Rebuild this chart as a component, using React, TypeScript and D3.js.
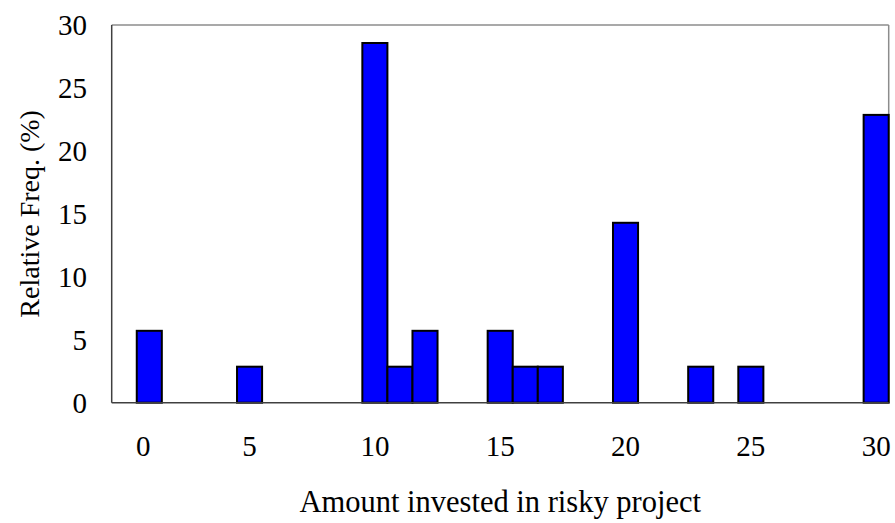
import * as d3 from 'd3';

const W = 895, H = 523;
const M = { top: 25, right: 6.3, bottom: 120.3, left: 111.7 };

// slot on the category axis, share of subjects (%) in that slot
const SLOTS = d3.range(0, 31);
const AMOUNTS = [1, 5, 10, 11, 12, 15, 16, 17, 20, 23, 25, 30];
const REL_FREQ = [5.71, 2.86, 28.57, 2.86, 5.71, 5.71, 2.86, 2.86, 14.29, 2.86, 2.86, 22.86];
const X_TICKS = [1, 5, 10, 15, 20, 25, 30];
const X_TICK_LABELS = ['0', '5', '10', '15', '20', '25', '30'];
const Y_TICKS = [0, 5, 10, 15, 20, 25, 30];

const TXT = { fontFamily: "'Liberation Serif', 'DejaVu Serif', serif" };

export default function App() {
  const x = d3.scaleBand<number>().domain(SLOTS).range([M.left, W - M.right]).padding(0);
  const y = d3.scaleLinear().domain([0, 30]).range([H - M.bottom, M.top]);
  const x0 = M.left, x1 = W - M.right, y0 = y(0), y1 = y(30);

  return (
    <svg width={W} height={H} style={{ position: 'absolute', left: 0, top: 0, background: '#fff' }}>
      {/* frame: grey top/right, darker axes */}
      <line x1={x0} x2={x1} y1={y1} y2={y1} stroke="#8c8c8c" strokeWidth={1.5} />
      <line x1={x1} x2={x1} y1={y1} y2={y0} stroke="#8c8c8c" strokeWidth={1.5} />

      {AMOUNTS.map((a, i) => (
        <rect key={a} x={x(a)!} y={y(REL_FREQ[i])} width={x.bandwidth()} height={y0 - y(REL_FREQ[i])}
          fill="#0000ff" stroke="#000" strokeWidth={2} />
      ))}

      <line x1={x0} x2={x0} y1={y1} y2={y0} stroke="#404040" strokeWidth={1.5} />
      <line x1={x0} x2={x1} y1={y0} y2={y0} stroke="#404040" strokeWidth={1.5} />

      {Y_TICKS.map(t => (
        <text key={t} x={87} y={y(t)} textAnchor="end" dominantBaseline="central" fontSize={29} style={TXT}>{t}</text>
      ))}
      {X_TICKS.map((t, i) => (
        <text key={t} x={x(t)! + x.bandwidth() / 2 - (i === 0 ? 6 : 0)} y={446} textAnchor="middle"
          dominantBaseline="central" fontSize={29} style={TXT}>{X_TICK_LABELS[i]}</text>
      ))}

      <text x={(x0 + x1) / 2} y={502} textAnchor="middle" dominantBaseline="central" fontSize={30.5} style={TXT}>
        Amount invested in risky project
      </text>
      <text transform={`translate(29,${(y0 + y1) / 2}) rotate(-90)`} textAnchor="middle"
        dominantBaseline="central" fontSize={28} style={TXT}>
        Relative Freq. (%)
      </text>
    </svg>
  );
}
